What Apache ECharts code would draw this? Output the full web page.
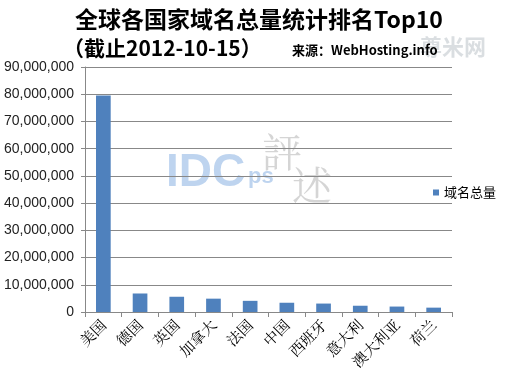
<!DOCTYPE html>
<html>
<head>
<meta charset="utf-8">
<script src="https://cdn.jsdelivr.net/npm/echarts@6/dist/echarts.min.js"></script>
<style>
  html, body { margin: 0; padding: 0; background: #fff; }
  #main { width: 505px; height: 376px; }
</style>
</head>
<body>
<div id="main"></div>
<script>
"use strict";

// 国家
var countries = ["美国", "德国", "英国", "加拿大", "法国", "中国", "西班牙", "意大利", "澳大利亚", "荷兰"];
// 域名总量
var domainTotals = [79500000, 6800000, 5600000, 4900000, 4100000, 3400000, 3100000, 2300000, 2000000, 1600000];
// y轴刻度
var yMin = 0, yMax = 90000000, yStep = 10000000;

var myChart = echarts.init(document.getElementById("main"));
var cjk = "'Noto Sans CJK SC', sans-serif";

var option = {
    backgroundColor: "#fff",
    animation: false,
    title: [{
        text: "全球各国家域名总量统计排名Top10",
        left: 254,
        textAlign: "center",
        top: 3,
        textStyle: { fontSize: 23, fontWeight: "bold", color: "#000", fontFamily: cjk }
    }, {
        text: "（截止2012-10-15）",
        left: 58,
        top: 33,
        textStyle: { fontSize: 21, fontWeight: "bold", color: "#000", fontFamily: cjk }
    }, {
        text: "来源：WebHosting.info",
        left: 287,
        top: 39,
        textStyle: { fontSize: 13, fontWeight: "bold", color: "#000", fontFamily: cjk }
    }],
    graphic: [{
        type: "text",
        left: 420,
        top: 36,
        z: -1,
        style: { text: "尊米网", fontSize: 22, fontWeight: "bold", fill: "rgba(150,160,170,0.35)", fontFamily: cjk }
    }, {
        type: "text",
        left: 166,
        top: 150,
        z: -1,
        style: { text: "IDC", fontSize: 46, fontWeight: "bold", fill: "rgba(110,160,220,0.45)", fontFamily: "'Liberation Sans', Arial" }
    }, {
        type: "text",
        left: 248,
        top: 166,
        z: -1,
        style: { text: "ps", fontSize: 22, fontWeight: "bold", fill: "rgba(110,160,220,0.45)", fontFamily: "'Liberation Sans', Arial" }
    }, {
        type: "text",
        left: 262,
        top: 132,
        z: -1,
        style: { text: "評", fontSize: 40, fill: "rgba(150,150,150,0.4)", fontFamily: "'Noto Serif CJK SC', " + cjk }
    }, {
        type: "text",
        left: 292,
        top: 165,
        z: -1,
        style: { text: "述", fontSize: 40, fill: "rgba(150,150,150,0.4)", fontFamily: "'Noto Serif CJK SC', " + cjk }
    }],
    legend: {
        data: ["域名总量"],
        right: 4,
        top: 181,
        itemWidth: 6,
        itemHeight: 6,
        itemGap: 3,
        icon: "rect",
        textStyle: { fontSize: 13, color: "#000", fontFamily: cjk }
    },
    grid: {
        left: 85,
        right: 53,
        top: 67,
        bottom: 64,
        containLabel: false
    },
    xAxis: {
        type: "category",
        data: countries,
        axisLine: { lineStyle: { color: "#888" } },
        axisTick: { show: true, alignWithLabel: false, length: 5, lineStyle: { color: "#888" } },
        axisLabel: {
            rotate: 45,
            interval: 0,
            fontSize: 15,
            color: "#000",
            fontFamily: "'Noto Serif CJK SC', 'Noto Sans CJK SC', serif",
            margin: 10
        }
    },
    yAxis: {
        type: "value",
        min: yMin,
        max: yMax,
        interval: yStep,
        axisLine: { show: true, lineStyle: { color: "#888" } },
        axisTick: { show: true, length: 4, lineStyle: { color: "#888" } },
        splitLine: { lineStyle: { color: "#888" } },
        axisLabel: {
            fontSize: 14,
            color: "#222",
            fontFamily: "'Liberation Sans', Arial, sans-serif",
            margin: 11,
            formatter: function (v) { return v.toLocaleString("en-US"); }
        }
    },
    series: [{
        name: "域名总量",
        type: "bar",
        data: domainTotals,
        barWidth: "40%",
        itemStyle: { color: "#4f81bd" }
    }]
};

myChart.setOption(option);
</script>
</body>
</html>
